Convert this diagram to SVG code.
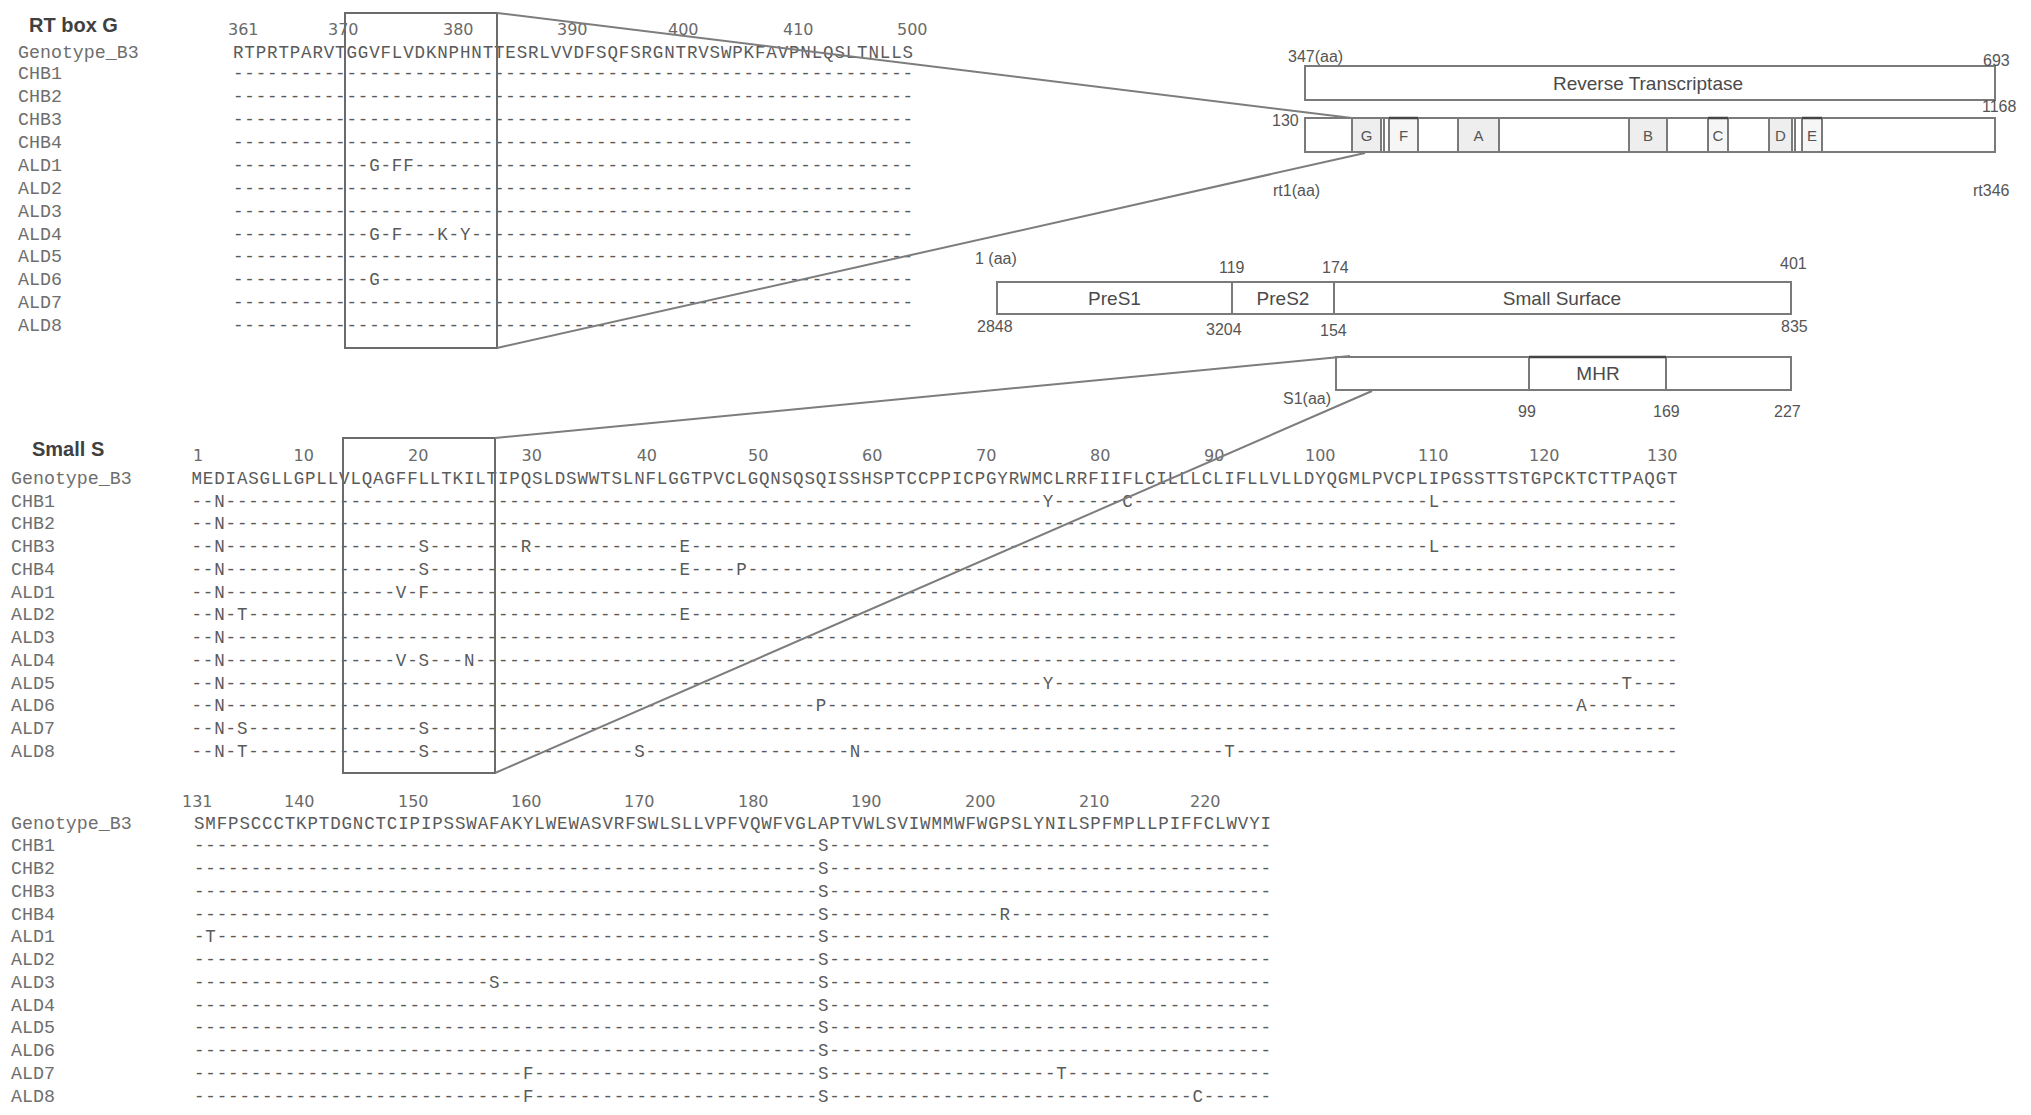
<svg xmlns="http://www.w3.org/2000/svg" width="2031" height="1115" viewBox="0 0 2031 1115">
<style>
.title{font-family:"Liberation Sans",Arial,sans-serif;font-weight:bold;font-size:20px;fill:#404040}
.lab{font-family:"Liberation Mono","Courier New",monospace;font-size:18.3px;fill:#6e6e6e}
.seq{font-family:"Liberation Mono","Courier New",monospace;font-size:17.5px;fill:#5a5a5a}
.num{font-family:"DejaVu Sans",sans-serif;font-size:16px;fill:#6a6a6a}
.region{fill:none;stroke:#6b6b6b;stroke-width:2}
.bar{fill:#ffffff;stroke:#7a7a7a;stroke-width:2}
.motif{fill:#eeeeee;stroke:#7a7a7a;stroke-width:2}
.motif2{fill:#f6f6f6;stroke:#7a7a7a;stroke-width:2}
.topedge{stroke:#444;stroke-width:2.5}
.sl{font-family:"Liberation Sans",Arial,sans-serif;font-size:16px;fill:#555}
.bl{font-family:"Liberation Sans",Arial,sans-serif;font-size:19px;fill:#4a4a4a;text-anchor:middle}
.ml{font-family:"Liberation Sans",Arial,sans-serif;font-size:15px;fill:#555;text-anchor:middle}
.conn{stroke:#7d7d7d;stroke-width:2;fill:none}
</style>
<rect width="2031" height="1115" fill="#ffffff"/>

<g id="rt-alignment">
<text class="title" x="29" y="32">RT box G</text>
<text class="num" x="228" y="35">361</text>
<text class="num" x="328" y="35">370</text>
<text class="num" x="443" y="35">380</text>
<text class="num" x="557" y="35">390</text>
<text class="num" x="668" y="35">400</text>
<text class="num" x="783" y="35">410</text>
<text class="num" x="897" y="35">500</text>
<text class="lab" x="18" y="57.7">Genotype_B3</text>
<text class="lab" x="18" y="79.3">CHB1</text>
<text class="lab" x="18" y="102.2">CHB2</text>
<text class="lab" x="18" y="125.1">CHB3</text>
<text class="lab" x="18" y="148">CHB4</text>
<text class="lab" x="18" y="170.8">ALD1</text>
<text class="lab" x="18" y="193.7">ALD2</text>
<text class="lab" x="18" y="216.6">ALD3</text>
<text class="lab" x="18" y="239.5">ALD4</text>
<text class="lab" x="18" y="262.4">ALD5</text>
<text class="lab" x="18" y="285.3">ALD6</text>
<text class="lab" x="18" y="308.2">ALD7</text>
<text class="lab" x="18" y="331">ALD8</text>
<text class="seq" x="233" y="57.7" textLength="680" lengthAdjust="spacing"><tspan>RTPRTPARVT</tspan><tspan>GGVFLVDKNP</tspan><tspan>HNTTESRLVV</tspan><tspan>DFSQFSRGNT</tspan><tspan>RVSWPKFAVP</tspan><tspan>NLQSLTNLLS</tspan></text>
<text class="seq" x="233" y="79.3" textLength="680" lengthAdjust="spacing"><tspan>----------</tspan><tspan>----------</tspan><tspan>----------</tspan><tspan>----------</tspan><tspan>----------</tspan><tspan>----------</tspan></text>
<text class="seq" x="233" y="102.2" textLength="680" lengthAdjust="spacing"><tspan>----------</tspan><tspan>----------</tspan><tspan>----------</tspan><tspan>----------</tspan><tspan>----------</tspan><tspan>----------</tspan></text>
<text class="seq" x="233" y="125.1" textLength="680" lengthAdjust="spacing"><tspan>----------</tspan><tspan>----------</tspan><tspan>----------</tspan><tspan>----------</tspan><tspan>----------</tspan><tspan>----------</tspan></text>
<text class="seq" x="233" y="148" textLength="680" lengthAdjust="spacing"><tspan>----------</tspan><tspan>----------</tspan><tspan>----------</tspan><tspan>----------</tspan><tspan>----------</tspan><tspan>----------</tspan></text>
<text class="seq" x="233" y="170.8" textLength="680" lengthAdjust="spacing"><tspan>----------</tspan><tspan>--G-FF----</tspan><tspan>----------</tspan><tspan>----------</tspan><tspan>----------</tspan><tspan>----------</tspan></text>
<text class="seq" x="233" y="193.7" textLength="680" lengthAdjust="spacing"><tspan>----------</tspan><tspan>----------</tspan><tspan>----------</tspan><tspan>----------</tspan><tspan>----------</tspan><tspan>----------</tspan></text>
<text class="seq" x="233" y="216.6" textLength="680" lengthAdjust="spacing"><tspan>----------</tspan><tspan>----------</tspan><tspan>----------</tspan><tspan>----------</tspan><tspan>----------</tspan><tspan>----------</tspan></text>
<text class="seq" x="233" y="239.5" textLength="680" lengthAdjust="spacing"><tspan>----------</tspan><tspan>--G-F---K-</tspan><tspan>Y---------</tspan><tspan>----------</tspan><tspan>----------</tspan><tspan>----------</tspan></text>
<text class="seq" x="233" y="262.4" textLength="680" lengthAdjust="spacing"><tspan>----------</tspan><tspan>----------</tspan><tspan>----------</tspan><tspan>----------</tspan><tspan>----------</tspan><tspan>----------</tspan></text>
<text class="seq" x="233" y="285.3" textLength="680" lengthAdjust="spacing"><tspan>----------</tspan><tspan>--G-------</tspan><tspan>----------</tspan><tspan>----------</tspan><tspan>----------</tspan><tspan>----------</tspan></text>
<text class="seq" x="233" y="308.2" textLength="680" lengthAdjust="spacing"><tspan>----------</tspan><tspan>----------</tspan><tspan>----------</tspan><tspan>----------</tspan><tspan>----------</tspan><tspan>----------</tspan></text>
<text class="seq" x="233" y="331" textLength="680" lengthAdjust="spacing"><tspan>----------</tspan><tspan>----------</tspan><tspan>----------</tspan><tspan>----------</tspan><tspan>----------</tspan><tspan>----------</tspan></text>
<rect id="rt-region" class="region" x="345" y="13" width="152" height="335"/>
</g>

<g id="small-s-alignment-1">
<text class="title" x="32" y="455.5">Small S</text>
<text class="num" x="193" y="461">1</text>
<text class="num" x="293.5" y="461">10</text>
<text class="num" x="408" y="461">20</text>
<text class="num" x="521.6" y="461">30</text>
<text class="num" x="636.7" y="461">40</text>
<text class="num" x="748" y="461">50</text>
<text class="num" x="862" y="461">60</text>
<text class="num" x="976" y="461">70</text>
<text class="num" x="1090" y="461">80</text>
<text class="num" x="1204" y="461">90</text>
<text class="num" x="1305" y="461">100</text>
<text class="num" x="1418" y="461">110</text>
<text class="num" x="1529" y="461">120</text>
<text class="num" x="1647" y="461">130</text>
<text class="lab" x="11" y="483.7">Genotype_B3</text>
<text class="lab" x="11" y="506.7">CHB1</text>
<text class="lab" x="11" y="529.4">CHB2</text>
<text class="lab" x="11" y="552.2">CHB3</text>
<text class="lab" x="11" y="574.9">CHB4</text>
<text class="lab" x="11" y="597.6">ALD1</text>
<text class="lab" x="11" y="620.4">ALD2</text>
<text class="lab" x="11" y="643.1">ALD3</text>
<text class="lab" x="11" y="665.8">ALD4</text>
<text class="lab" x="11" y="688.6">ALD5</text>
<text class="lab" x="11" y="711.3">ALD6</text>
<text class="lab" x="11" y="734">ALD7</text>
<text class="lab" x="11" y="756.7">ALD8</text>
<text class="seq" x="191.5" y="483.7" textLength="1486" lengthAdjust="spacing"><tspan>MEDIASGLLG</tspan><tspan>PLLVLQAGFF</tspan><tspan>LLTKILTIPQ</tspan><tspan>SLDSWWTSLN</tspan><tspan>FLGGTPVCLG</tspan><tspan>QNSQSQISSH</tspan><tspan>SPTCCPPICP</tspan><tspan>GYRWMCLRRF</tspan><tspan>IIFLCILLLC</tspan><tspan>LIFLLVLLDY</tspan><tspan>QGMLPVCPLI</tspan><tspan>PGSSTTSTGP</tspan><tspan>CKTCTTPAQG</tspan><tspan>T</tspan></text>
<text class="seq" x="191.5" y="506.7" textLength="1486" lengthAdjust="spacing"><tspan>--N-------</tspan><tspan>----------</tspan><tspan>----------</tspan><tspan>----------</tspan><tspan>----------</tspan><tspan>----------</tspan><tspan>----------</tspan><tspan>-----Y----</tspan><tspan>--C-------</tspan><tspan>----------</tspan><tspan>---------L</tspan><tspan>----------</tspan><tspan>----------</tspan><tspan>-</tspan></text>
<text class="seq" x="191.5" y="529.4" textLength="1486" lengthAdjust="spacing"><tspan>--N-------</tspan><tspan>----------</tspan><tspan>----------</tspan><tspan>----------</tspan><tspan>----------</tspan><tspan>----------</tspan><tspan>----------</tspan><tspan>----------</tspan><tspan>----------</tspan><tspan>----------</tspan><tspan>----------</tspan><tspan>----------</tspan><tspan>----------</tspan><tspan>-</tspan></text>
<text class="seq" x="191.5" y="552.2" textLength="1486" lengthAdjust="spacing"><tspan>--N-------</tspan><tspan>----------</tspan><tspan>S--------R</tspan><tspan>----------</tspan><tspan>---E------</tspan><tspan>----------</tspan><tspan>----------</tspan><tspan>----------</tspan><tspan>----------</tspan><tspan>----------</tspan><tspan>---------L</tspan><tspan>----------</tspan><tspan>----------</tspan><tspan>-</tspan></text>
<text class="seq" x="191.5" y="574.9" textLength="1486" lengthAdjust="spacing"><tspan>--N-------</tspan><tspan>----------</tspan><tspan>S---------</tspan><tspan>----------</tspan><tspan>---E----P-</tspan><tspan>----------</tspan><tspan>----------</tspan><tspan>----------</tspan><tspan>----------</tspan><tspan>----------</tspan><tspan>----------</tspan><tspan>----------</tspan><tspan>----------</tspan><tspan>-</tspan></text>
<text class="seq" x="191.5" y="597.6" textLength="1486" lengthAdjust="spacing"><tspan>--N-------</tspan><tspan>--------V-</tspan><tspan>F---------</tspan><tspan>----------</tspan><tspan>----------</tspan><tspan>----------</tspan><tspan>----------</tspan><tspan>----------</tspan><tspan>----------</tspan><tspan>----------</tspan><tspan>----------</tspan><tspan>----------</tspan><tspan>----------</tspan><tspan>-</tspan></text>
<text class="seq" x="191.5" y="620.4" textLength="1486" lengthAdjust="spacing"><tspan>--N-T-----</tspan><tspan>----------</tspan><tspan>----------</tspan><tspan>----------</tspan><tspan>---E------</tspan><tspan>----------</tspan><tspan>----------</tspan><tspan>----------</tspan><tspan>----------</tspan><tspan>----------</tspan><tspan>----------</tspan><tspan>----------</tspan><tspan>----------</tspan><tspan>-</tspan></text>
<text class="seq" x="191.5" y="643.1" textLength="1486" lengthAdjust="spacing"><tspan>--N-------</tspan><tspan>----------</tspan><tspan>----------</tspan><tspan>----------</tspan><tspan>----------</tspan><tspan>----------</tspan><tspan>----------</tspan><tspan>----------</tspan><tspan>----------</tspan><tspan>----------</tspan><tspan>----------</tspan><tspan>----------</tspan><tspan>----------</tspan><tspan>-</tspan></text>
<text class="seq" x="191.5" y="665.8" textLength="1486" lengthAdjust="spacing"><tspan>--N-------</tspan><tspan>--------V-</tspan><tspan>S---N-----</tspan><tspan>----------</tspan><tspan>----------</tspan><tspan>----------</tspan><tspan>----------</tspan><tspan>----------</tspan><tspan>----------</tspan><tspan>----------</tspan><tspan>----------</tspan><tspan>----------</tspan><tspan>----------</tspan><tspan>-</tspan></text>
<text class="seq" x="191.5" y="688.6" textLength="1486" lengthAdjust="spacing"><tspan>--N-------</tspan><tspan>----------</tspan><tspan>----------</tspan><tspan>----------</tspan><tspan>----------</tspan><tspan>----------</tspan><tspan>----------</tspan><tspan>-----Y----</tspan><tspan>----------</tspan><tspan>----------</tspan><tspan>----------</tspan><tspan>----------</tspan><tspan>------T---</tspan><tspan>-</tspan></text>
<text class="seq" x="191.5" y="711.3" textLength="1486" lengthAdjust="spacing"><tspan>--N-------</tspan><tspan>----------</tspan><tspan>----------</tspan><tspan>----------</tspan><tspan>----------</tspan><tspan>-----P----</tspan><tspan>----------</tspan><tspan>----------</tspan><tspan>----------</tspan><tspan>----------</tspan><tspan>----------</tspan><tspan>----------</tspan><tspan>--A-------</tspan><tspan>-</tspan></text>
<text class="seq" x="191.5" y="734" textLength="1486" lengthAdjust="spacing"><tspan>--N-S-----</tspan><tspan>----------</tspan><tspan>S---------</tspan><tspan>----------</tspan><tspan>----------</tspan><tspan>----------</tspan><tspan>----------</tspan><tspan>----------</tspan><tspan>----------</tspan><tspan>----------</tspan><tspan>----------</tspan><tspan>----------</tspan><tspan>----------</tspan><tspan>-</tspan></text>
<text class="seq" x="191.5" y="756.7" textLength="1486" lengthAdjust="spacing"><tspan>--N-T-----</tspan><tspan>----------</tspan><tspan>S---------</tspan><tspan>---------S</tspan><tspan>----------</tspan><tspan>--------N-</tspan><tspan>----------</tspan><tspan>----------</tspan><tspan>----------</tspan><tspan>-T--------</tspan><tspan>----------</tspan><tspan>----------</tspan><tspan>----------</tspan><tspan>-</tspan></text>
<rect id="s-region" class="region" x="343" y="438" width="152" height="335"/>
</g>

<g id="small-s-alignment-2">
<text class="num" x="182" y="807">131</text>
<text class="num" x="284" y="807">140</text>
<text class="num" x="398" y="807">150</text>
<text class="num" x="511" y="807">160</text>
<text class="num" x="624" y="807">170</text>
<text class="num" x="738" y="807">180</text>
<text class="num" x="851" y="807">190</text>
<text class="num" x="965" y="807">200</text>
<text class="num" x="1079" y="807">210</text>
<text class="num" x="1190" y="807">220</text>
<text class="lab" x="11" y="829.3">Genotype_B3</text>
<text class="lab" x="11" y="851">CHB1</text>
<text class="lab" x="11" y="873.8">CHB2</text>
<text class="lab" x="11" y="896.6">CHB3</text>
<text class="lab" x="11" y="919.5">CHB4</text>
<text class="lab" x="11" y="942.3">ALD1</text>
<text class="lab" x="11" y="965.1">ALD2</text>
<text class="lab" x="11" y="987.9">ALD3</text>
<text class="lab" x="11" y="1010.6">ALD4</text>
<text class="lab" x="11" y="1033.4">ALD5</text>
<text class="lab" x="11" y="1056.2">ALD6</text>
<text class="lab" x="11" y="1079">ALD7</text>
<text class="lab" x="11" y="1101.8">ALD8</text>
<text class="seq" x="194" y="829.3" textLength="1077" lengthAdjust="spacing"><tspan>SMFPSCCCTK</tspan><tspan>PTDGNCTCIP</tspan><tspan>IPSSWAFAKY</tspan><tspan>LWEWASVRFS</tspan><tspan>WLSLLVPFVQ</tspan><tspan>WFVGLAPTVW</tspan><tspan>LSVIWMMWFW</tspan><tspan>GPSLYNILSP</tspan><tspan>FMPLLPIFFC</tspan><tspan>LWVYI</tspan></text>
<text class="seq" x="194" y="851" textLength="1077" lengthAdjust="spacing"><tspan>----------</tspan><tspan>----------</tspan><tspan>----------</tspan><tspan>----------</tspan><tspan>----------</tspan><tspan>-----S----</tspan><tspan>----------</tspan><tspan>----------</tspan><tspan>----------</tspan><tspan>-----</tspan></text>
<text class="seq" x="194" y="873.8" textLength="1077" lengthAdjust="spacing"><tspan>----------</tspan><tspan>----------</tspan><tspan>----------</tspan><tspan>----------</tspan><tspan>----------</tspan><tspan>-----S----</tspan><tspan>----------</tspan><tspan>----------</tspan><tspan>----------</tspan><tspan>-----</tspan></text>
<text class="seq" x="194" y="896.6" textLength="1077" lengthAdjust="spacing"><tspan>----------</tspan><tspan>----------</tspan><tspan>----------</tspan><tspan>----------</tspan><tspan>----------</tspan><tspan>-----S----</tspan><tspan>----------</tspan><tspan>----------</tspan><tspan>----------</tspan><tspan>-----</tspan></text>
<text class="seq" x="194" y="919.5" textLength="1077" lengthAdjust="spacing"><tspan>----------</tspan><tspan>----------</tspan><tspan>----------</tspan><tspan>----------</tspan><tspan>----------</tspan><tspan>-----S----</tspan><tspan>----------</tspan><tspan>-R--------</tspan><tspan>----------</tspan><tspan>-----</tspan></text>
<text class="seq" x="194" y="942.3" textLength="1077" lengthAdjust="spacing"><tspan>-T--------</tspan><tspan>----------</tspan><tspan>----------</tspan><tspan>----------</tspan><tspan>----------</tspan><tspan>-----S----</tspan><tspan>----------</tspan><tspan>----------</tspan><tspan>----------</tspan><tspan>-----</tspan></text>
<text class="seq" x="194" y="965.1" textLength="1077" lengthAdjust="spacing"><tspan>----------</tspan><tspan>----------</tspan><tspan>----------</tspan><tspan>----------</tspan><tspan>----------</tspan><tspan>-----S----</tspan><tspan>----------</tspan><tspan>----------</tspan><tspan>----------</tspan><tspan>-----</tspan></text>
<text class="seq" x="194" y="987.9" textLength="1077" lengthAdjust="spacing"><tspan>----------</tspan><tspan>----------</tspan><tspan>------S---</tspan><tspan>----------</tspan><tspan>----------</tspan><tspan>-----S----</tspan><tspan>----------</tspan><tspan>----------</tspan><tspan>----------</tspan><tspan>-----</tspan></text>
<text class="seq" x="194" y="1010.6" textLength="1077" lengthAdjust="spacing"><tspan>----------</tspan><tspan>----------</tspan><tspan>----------</tspan><tspan>----------</tspan><tspan>----------</tspan><tspan>-----S----</tspan><tspan>----------</tspan><tspan>----------</tspan><tspan>----------</tspan><tspan>-----</tspan></text>
<text class="seq" x="194" y="1033.4" textLength="1077" lengthAdjust="spacing"><tspan>----------</tspan><tspan>----------</tspan><tspan>----------</tspan><tspan>----------</tspan><tspan>----------</tspan><tspan>-----S----</tspan><tspan>----------</tspan><tspan>----------</tspan><tspan>----------</tspan><tspan>-----</tspan></text>
<text class="seq" x="194" y="1056.2" textLength="1077" lengthAdjust="spacing"><tspan>----------</tspan><tspan>----------</tspan><tspan>----------</tspan><tspan>----------</tspan><tspan>----------</tspan><tspan>-----S----</tspan><tspan>----------</tspan><tspan>----------</tspan><tspan>----------</tspan><tspan>-----</tspan></text>
<text class="seq" x="194" y="1079" textLength="1077" lengthAdjust="spacing"><tspan>----------</tspan><tspan>----------</tspan><tspan>---------F</tspan><tspan>----------</tspan><tspan>----------</tspan><tspan>-----S----</tspan><tspan>----------</tspan><tspan>------T---</tspan><tspan>----------</tspan><tspan>-----</tspan></text>
<text class="seq" x="194" y="1101.8" textLength="1077" lengthAdjust="spacing"><tspan>----------</tspan><tspan>----------</tspan><tspan>---------F</tspan><tspan>----------</tspan><tspan>----------</tspan><tspan>-----S----</tspan><tspan>----------</tspan><tspan>----------</tspan><tspan>--------C-</tspan><tspan>-----</tspan></text>
</g>

<g id="rt-schematic">
<rect class="bar" x="1305" y="66" width="690" height="34"/>
<text class="bl" x="1648" y="89.5">Reverse Transcriptase</text>
<text class="sl" x="1288" y="62">347(aa)</text>
<text class="sl" x="1983" y="66">693</text>
<text class="sl" x="1982" y="111.5">1168</text>
<rect class="bar" x="1305" y="118" width="690" height="34"/>
<rect class="motif" x="1352" y="118" width="29" height="34"/>
<line x1="1384" y1="118" x2="1384" y2="152" stroke="#7a7a7a" stroke-width="2"/>
<rect class="motif2" x="1389" y="118" width="29" height="34"/>
<line class="topedge" x1="1389" y1="118" x2="1418" y2="118"/>
<rect class="motif" x="1458" y="118" width="41" height="34"/>
<rect class="motif" x="1629" y="118" width="38" height="34"/>
<rect class="motif2" x="1708" y="118" width="20" height="34"/>
<line class="topedge" x1="1708" y1="118" x2="1728" y2="118"/>
<rect class="motif" x="1769" y="118" width="23" height="34"/>
<line x1="1795" y1="118" x2="1795" y2="152" stroke="#7a7a7a" stroke-width="2"/>
<rect class="motif2" x="1802" y="118" width="20" height="34"/>
<line class="topedge" x1="1802" y1="118" x2="1822" y2="118"/>
<text class="ml" x="1366.5" y="141">G</text>
<text class="ml" x="1403.5" y="141">F</text>
<text class="ml" x="1478.5" y="141">A</text>
<text class="ml" x="1648" y="141">B</text>
<text class="ml" x="1718" y="141">C</text>
<text class="ml" x="1780.5" y="141">D</text>
<text class="ml" x="1812" y="141">E</text>
<text class="sl" x="1272" y="125.5">130</text>
<text class="sl" x="1273" y="195.5">rt1(aa)</text>
<text class="sl" x="1973" y="195.5">rt346</text>
</g>

<g id="surface-schematic">
<rect class="bar" x="997" y="282" width="794" height="32"/>
<line x1="1232" y1="282" x2="1232" y2="314" stroke="#7a7a7a" stroke-width="2"/>
<line x1="1334" y1="282" x2="1334" y2="314" stroke="#7a7a7a" stroke-width="2"/>
<text class="bl" x="1114.5" y="305">PreS1</text>
<text class="bl" x="1283" y="305">PreS2</text>
<text class="bl" x="1562" y="305">Small Surface</text>
<text class="sl" x="975" y="264">1 (aa)</text>
<text class="sl" x="1219" y="273">119</text>
<text class="sl" x="1322" y="273">174</text>
<text class="sl" x="1780" y="268.5">401</text>
<text class="sl" x="977" y="331.5">2848</text>
<text class="sl" x="1206" y="334.5">3204</text>
<text class="sl" x="1320" y="335.5">154</text>
<text class="sl" x="1781" y="332">835</text>
</g>

<g id="s-schematic">
<rect class="bar" x="1336" y="357" width="455" height="33"/>
<rect class="bar" x="1529" y="357" width="137" height="33"/>
<line class="topedge" x1="1529" y1="357" x2="1666" y2="357"/>
<text class="bl" x="1598" y="380">MHR</text>
<text class="sl" x="1283" y="404">S1(aa)</text>
<text class="sl" x="1518" y="417">99</text>
<text class="sl" x="1653" y="417">169</text>
<text class="sl" x="1774" y="417">227</text>
</g>

<g id="connectors">
<line class="conn" x1="497" y1="13" x2="1352" y2="118"/>
<line class="conn" x1="497" y1="348" x2="1365" y2="153"/>
<line class="conn" x1="495" y1="438" x2="1350" y2="356"/>
<line class="conn" x1="495" y1="773" x2="1372" y2="391"/>
</g>
</svg>
